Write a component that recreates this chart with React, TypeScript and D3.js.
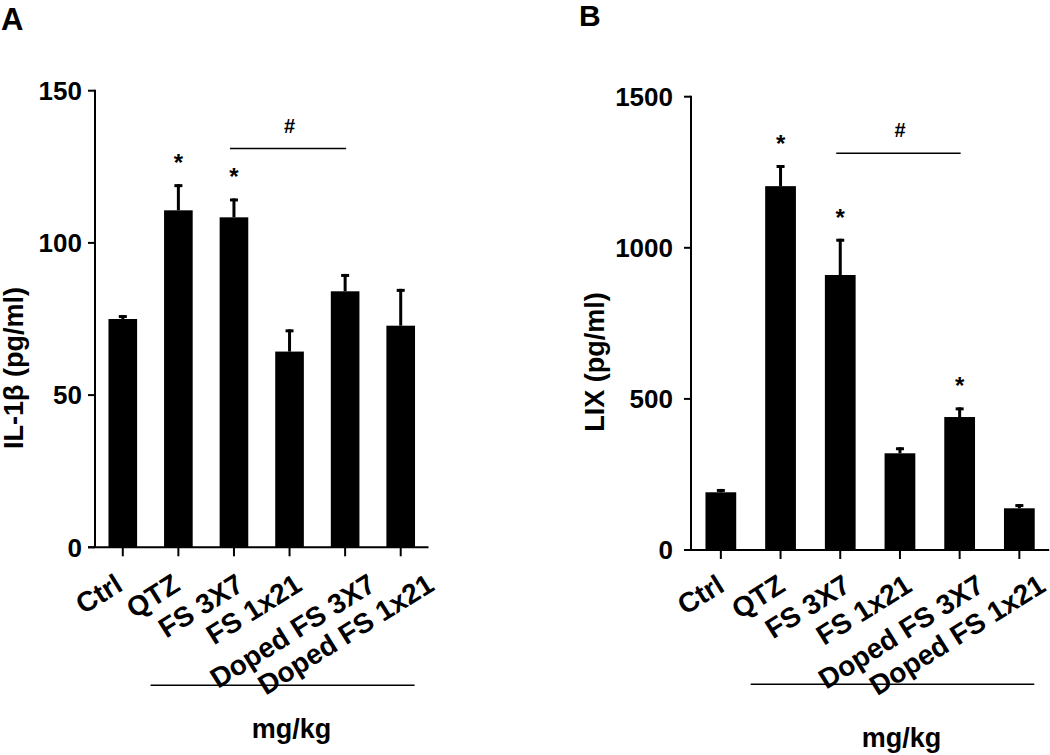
import React from "react";
import * as d3 from "d3";

const categories = ["Ctrl", "QTZ", "FS 3X7", "FS 1x21", "Doped FS 3X7", "Doped FS 1x21"];
const il1bMeans = [75, 110.7, 108.4, 64.3, 84.1, 72.8];
const il1bErr = [1.3, 8.6, 6.2, 7.3, 5.7, 12.1];
const il1bStars = [false, true, true, false, false, false];
const il1bTicks = [0, 50, 100, 150];
const lixMeans = [191, 1204, 910, 320, 440, 138];
const lixErr = [11, 70, 120, 20, 32, 14];
const lixStars = [false, true, true, false, true, false];
const lixTicks = [0, 500, 1000, 1500];
const hashPair = [2, 4];
const il1bHashValue = 131;
const lixHashValue = 1313;
const doseLabel = "mg/kg";

const FONT = "'Liberation Sans', Arial, Helvetica, sans-serif";

let ctx: CanvasRenderingContext2D | null = null;
function textWidth(t: string, size: number) {
  if (!ctx) ctx = document.createElement("canvas").getContext("2d");
  if (!ctx) return t.length * size * 0.55;
  ctx.font = `bold ${size}px ${FONT}`;
  return ctx.measureText(t).width;
}

type PanelProps = {
  letter: string;
  letterX: number;
  letterY: number;
  letterSize: number;
  means: number[];
  errs: number[];
  stars: boolean[];
  ticks: number[];
  hashValue: number;
  yTitle: string;
  yTitleX: number;
  yTitleY: number;
  x0: number;
  x1: number;
  yBottom: number;
  yTop: number;
  tickLabelGap: number;
  labelDx: number;
  labelGrow: number;
  labelDy: number;
  doseLineY: number;
  doseTextY: number;
};

function Panel(p: PanelProps) {
  const x = d3
    .scaleBand<string>()
    .domain(categories)
    .range([p.x0, p.x1])
    .paddingInner(0.485)
    .paddingOuter(0.2425);
  const maxT = p.ticks[p.ticks.length - 1];
  const y = d3.scaleLinear().domain([0, maxT]).range([p.yBottom, p.yTop]);
  const bw = x.bandwidth();
  const step = x.step();
  const cx = (c: string) => (x(c) as number) + bw / 2;
  const axisY = y(0);
  const lblSize = 28;
  const lineStart = cx(categories[1]) - step * 0.5;
  const lineEnd = cx(categories[categories.length - 1]) + step * 0.25;

  return (
    <g>
      <text x={p.letterX} y={p.letterY} fontSize={p.letterSize} fontWeight="bold" fontFamily={FONT}>
        {p.letter}
      </text>
      {categories.map((c, i) => (
        <rect key={"b" + c} x={x(c)} y={y(p.means[i])} width={bw} height={axisY - y(p.means[i])} fill="#000" />
      ))}
      {categories.map((c, i) => {
        const top = y(p.means[i] + p.errs[i]);
        return (
          <g key={"e" + c}>
            <line x1={cx(c)} x2={cx(c)} y1={y(p.means[i])} y2={top} stroke="#000" strokeWidth={3} />
            <line x1={cx(c) - 4} x2={cx(c) + 4} y1={top + 1.5} y2={top + 1.5} stroke="#000" strokeWidth={3} />
          </g>
        );
      })}
      {categories.map((c, i) =>
        p.stars[i] ? (
          <text
            key={"s" + c}
            x={cx(c)}
            y={y(p.means[i] + p.errs[i]) - 26 + 13}
            textAnchor="middle"
            fontSize={24}
            fontWeight="bold"
            fontFamily={FONT}
          >
            *
          </text>
        ) : null
      )}
      <line
        x1={cx(categories[hashPair[0]]) - 4}
        x2={cx(categories[hashPair[1]]) + 1}
        y1={y(p.hashValue)}
        y2={y(p.hashValue)}
        stroke="#000"
        strokeWidth={1.5}
      />
      <text
        x={(cx(categories[hashPair[0]]) + cx(categories[hashPair[1]])) / 2}
        y={y(p.hashValue) - 16}
        textAnchor="middle"
        fontSize={20}
        fontWeight="bold"
        fontFamily={FONT}
      >
        #
      </text>
      <line x1={p.x0} x2={p.x0} y1={axisY} y2={y(maxT) - 1} stroke="#000" strokeWidth={2} />
      {p.ticks.map((t) => (
        <g key={"t" + t}>
          <line x1={p.x0 - 7} x2={p.x0} y1={y(t)} y2={y(t)} stroke="#000" strokeWidth={2} />
          <text
            x={p.x0 - 7 - p.tickLabelGap}
            y={y(t)}
            dy="0.36em"
            textAnchor="end"
            fontSize={26}
            fontWeight="bold"
            fontFamily={FONT}
          >
            {t}
          </text>
        </g>
      ))}
      <text
        transform={`translate(${p.yTitleX},${p.yTitleY}) rotate(-90)`}
        textAnchor="middle"
        fontSize={27}
        fontWeight="bold"
        fontFamily={FONT}
      >
        {p.yTitle}
      </text>
      <line x1={p.x0 - 7} x2={p.x1} y1={axisY} y2={axisY} stroke="#000" strokeWidth={2} />
      {categories.map((c) => {
        const L = textWidth(c, lblSize);
        const ex = cx(c) + p.labelDx + p.labelGrow * L;
        return (
          <g key={"x" + c}>
            <line x1={cx(c)} x2={cx(c)} y1={axisY} y2={axisY + 9} stroke="#000" strokeWidth={2} />
            <text
              transform={`translate(${ex},${axisY + p.labelDy}) rotate(-32)`}
              textAnchor="end"
              fontSize={lblSize}
              fontWeight="bold"
              fontFamily={FONT}
            >
              {c}
            </text>
          </g>
        );
      })}
      <line x1={lineStart} x2={lineEnd} y1={p.doseLineY} y2={p.doseLineY} stroke="#000" strokeWidth={1.5} />
      <text
        x={(lineStart + lineEnd) / 2 + 9}
        y={p.doseTextY}
        textAnchor="middle"
        fontSize={27}
        fontWeight="bold"
        fontFamily={FONT}
      >
        {doseLabel}
      </text>
    </g>
  );
}

export default function App() {
  return (
    <svg width={1050} height={755} style={{ position: "absolute", left: 0, top: 0, background: "#fff" }}>
      <rect width={1050} height={755} fill="#fff" />
      <Panel
        letter="A"
        letterX={1}
        letterY={30}
        letterSize={31}
        means={il1bMeans}
        errs={il1bErr}
        stars={il1bStars}
        ticks={il1bTicks}
        hashValue={il1bHashValue}
        yTitle="IL-1β (pg/ml)"
        yTitleX={23}
        yTitleY={368}
        x0={95}
        x1={428.5}
        yBottom={547.3}
        yTop={90.7}
        tickLabelGap={6}
        labelDx={-9}
        labelGrow={0.22}
        labelDy={42}
        doseLineY={685.3}
        doseTextY={738}
      />
      <Panel
        letter="B"
        letterX={579}
        letterY={26}
        letterSize={30}
        means={lixMeans}
        errs={lixErr}
        stars={lixStars}
        ticks={lixTicks}
        hashValue={lixHashValue}
        yTitle="LIX (pg/ml)"
        yTitleX={604}
        yTitleY={362}
        x0={691}
        x1={1049.2}
        yBottom={550}
        yTop={96.7}
        tickLabelGap={11}
        labelDx={-2}
        labelGrow={0.15}
        labelDy={40}
        doseLineY={684.3}
        doseTextY={747}
      />
    </svg>
  );
}
